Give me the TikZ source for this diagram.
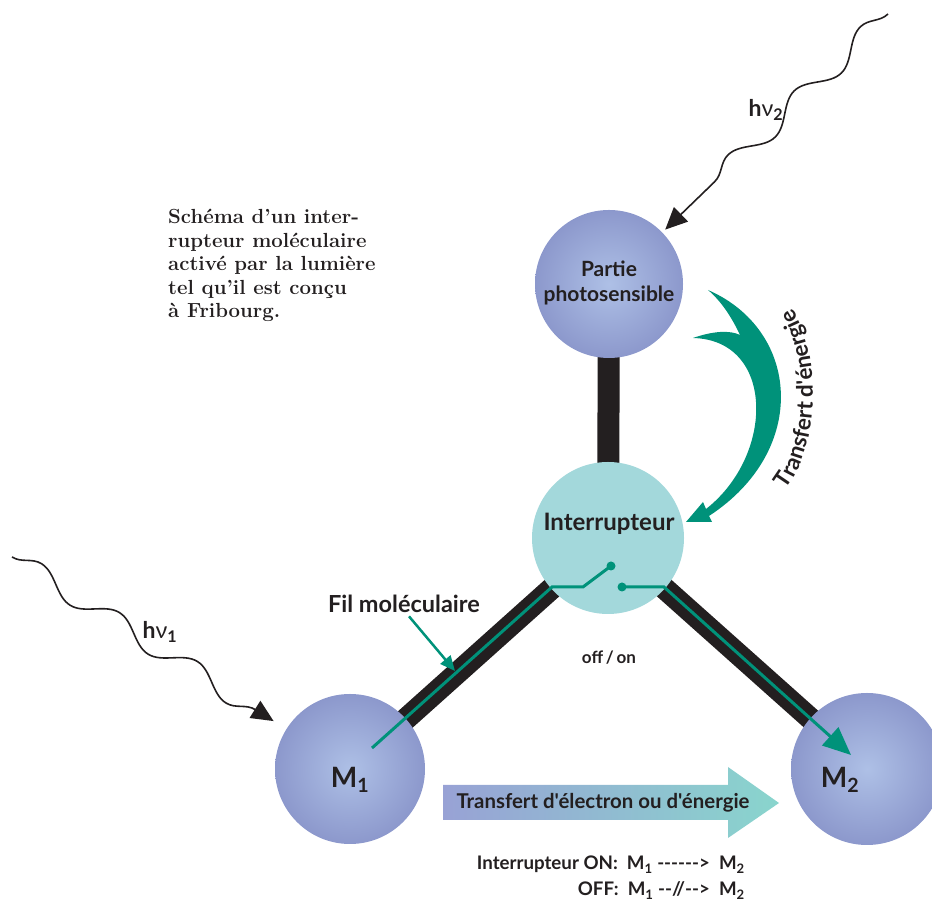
\documentclass[tikz,border=0pt]{standalone}
\usepackage{fontspec}
\setsansfont{Lato}[Ligatures=TeXOff]
\usetikzlibrary{arrows.meta,backgrounds,decorations.pathmorphing,decorations.text}
\definecolor{ink}{RGB}{35,31,32}
\definecolor{wiregreen}{RGB}{0,146,122}
\definecolor{ballin}{RGB}{174,192,230}
\definecolor{ballout}{RGB}{140,152,204}
\definecolor{switchcyan}{RGB}{163,216,219}
\definecolor{flowleft}{RGB}{152,162,213}
\definecolor{flowright}{RGB}{137,213,205}
\newcommand\fsize[1]{\fontsize{#1}{\fpeval{1.2*#1}}\selectfont}
\begin{document}
\begin{tikzpicture}[x=1pt,y=1pt,
    ball/.style={circle,inner sep=0pt,minimum size=150pt,inner color=ballin,outer color=ballout},
    lbl/.style={text=ink,font=\sffamily\bfseries\fsize{#1}},
    bar/.style={ink,line width=22pt},
    wire/.style={wiregreen,line width=3pt},
    photon/.style={ink,line width=1.6pt,-{Triangle[length=22pt,width=20pt]},
      decorate,decoration={snake,amplitude=10pt,segment length=92pt,post length=30pt}}]
  \useasboundingbox (0,0) rectangle (932,901);
  \node[ball,minimum size=148pt] (photo) at (609,617) {};
  \node[circle,inner sep=0pt,minimum size=152pt,fill=switchcyan] (inter) at (608,363) {};
  \node[ball] (M1) at (350,132) {};
  \node[ball,minimum size=152pt] (M2) at (867,132) {};
  \begin{scope}[on background layer]
    \draw[bar] (photo.center) -- (inter.center);
    \draw[bar] (inter.center) -- (M1.center);
    \draw[bar] (inter.center) -- (M2.center);
  \end{scope}
  \node[lbl=21,align=center] (photoTxt) at (609,618) {Partie\\photosensible};
  \node[lbl=24] (interTxt) at (609,377) {Interrupteur};
  \node[lbl=28] (M1Txt) at (350,121) {M\textsubscript{1}};
  \node[lbl=28] (M2Txt) at (840,121) {M\textsubscript{2}};
  \node[lbl=17] (offon) at (609,243) {off\,/\,on};
  \coordinate (m1in) at (372,153);
  \coordinate (swL) at (552,314);
  \coordinate (swK) at (583,314);
  \coordinate (dot1) at (611,335);
  \coordinate (dot2) at (622,314);
  \coordinate (swR) at (664,314);
  \coordinate (m2tip) at (851,146);
  \draw[wire] (m1in) -- (swL) -- (swK) -- (dot1);
  \draw[wire,-{Triangle[length=28pt,width=24pt]}] (dot2) -- (swR) -- (m2tip);
  \fill[wiregreen] (dot1) circle (4.5pt) (dot2) circle (4.5pt);
  \node[lbl=23.5] (fil) at (404,297) {Fil moléculaire};
  \coordinate (filTip) at (455,230);
  \draw[wiregreen,line width=2.5pt,-{Triangle[length=15pt,width=13pt]}] ([xshift=5pt]fil.south) -- (filTip);
  \coordinate (src1) at (12,344);
  \coordinate (src2) at (888,887);
  \draw[photon,shorten >=15pt] (src1) -- (M1);
  \draw[photon,decoration={mirror},shorten >=4pt] (src2) -- (photo);
  \node[lbl=23] (hv1) at (160,269) {h{\mdseries ν}\textsubscript{1}};
  \node[lbl=23] (hv2) at (766,791) {h{\mdseries ν}\textsubscript{2}};
  \fill[wiregreen] (708,611) .. controls (800,571) and (810,451) .. (709,385) -- (712,379)
    -- (686,379) -- (703,399) -- (706,392) .. controls (775,446) and (775,561) .. (693,563)
    .. controls (713,570) and (730,571) .. (740,566) .. controls (732,583) and (722,599) .. (708,611) -- cycle;
  \path[decorate,decoration={text along path,text align=center,
      text={|\sffamily\bfseries\fsize{22.5}\color{ink}|Transfert d'énergie}}]
    (779,404) .. controls (823,446) and (823,560) .. (786,600);
  \shade[left color=flowleft,right color=flowright] (443,116) -- (728,116) -- (728,134)
    -- (779,98) -- (728,63) -- (728,81) -- (443,81) -- cycle;
  \node[lbl=20.4] (flow) at (603,98) {Transfert d'électron ou d'énergie};
  \node[text=ink,font=\sffamily\bfseries\fontsize{18.7}{26}\selectfont,align=right,anchor=north east,inner sep=0pt] (status) at (745,45)
    {Interrupteur ON:\ \ M\textsubscript{1} ------>\ \ M\textsubscript{2}\\OFF:\ \ M\textsubscript{1} --//-->\ \ M\textsubscript{2}};
  \node[text=ink,font=\bfseries\fontsize{20.4}{23.5}\selectfont,align=left,anchor=north west,inner sep=0pt] (caption) at (168,692)
    {Schéma d’un inter-\\rupteur moléculaire\\activé par la lumière\\tel qu’il est conçu\\à Fribourg.};
\end{tikzpicture}
\end{document}
